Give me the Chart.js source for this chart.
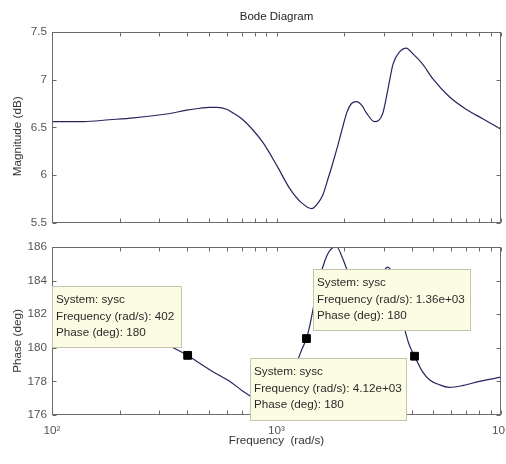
<!DOCTYPE html>
<html>
<head>
<meta charset="utf-8">
<script src="https://cdn.jsdelivr.net/npm/chart.js@4.4.0/dist/chart.umd.min.js"></script>
<style>
  html, body { margin: 0; padding: 0; background: #fff; overflow: hidden; width: 506px; height: 464px; }
  canvas { position: absolute; left: 0; }
  #c-mag   { top: 0; }
  #c-phase { top: 235px; }
</style>
</head>
<body>
<canvas id="c-mag" width="540" height="235"></canvas>
<canvas id="c-phase" width="540" height="229"></canvas>
<script>
// ── Datos ────────────────────────────────────────────────────────
const magFreq = [100, 138, 180, 231, 324, 398, 456, 500, 545, 600, 641, 700, 787, 871, 1004, 1146, 1295, 1435, 1520,
                 1606, 1700, 1778, 1880, 1970, 2060, 2158, 2274, 2400, 2518, 2735, 2967, 3125, 3302, 3534, 3784,
                 4049, 4484, 4966, 5889, 6984, 8291, 10000];
const magDb   = [6.56, 6.56, 6.58, 6.60, 6.64, 6.68, 6.70, 6.71, 6.71, 6.69, 6.65, 6.59, 6.47, 6.34, 6.10, 5.86, 5.71, 5.65, 5.70,
                 5.79, 5.97, 6.12, 6.32, 6.50, 6.66, 6.75, 6.77, 6.73, 6.65, 6.56, 6.64, 6.88, 7.16, 7.29, 7.33,
                 7.27, 7.16, 7.01, 6.82, 6.69, 6.59, 6.48];

const phaseFreq = [100, 150, 200, 260, 310, 359, 402, 426, 521, 620, 708, 761, 830, 920, 1010, 1120, 1200, 1247, 1296,
                   1360, 1406, 1480, 1560, 1641, 1710, 1779, 1853, 1974, 2080, 2250, 2500, 2800, 2980, 3125, 3270,
                   3450, 3650, 3795, 3908, 4120, 4300, 4470, 4800, 5320, 5890, 6730, 8010, 10000];
const phaseDeg  = [181.6, 181.3, 181.0, 180.6, 180.3, 179.9, 179.55, 179.33, 178.58, 178.0, 177.42, 177.15, 176.8, 176.7, 177.2, 178.2, 178.9, 179.33, 179.9,
                   180.55, 181.3, 182.8, 184.2, 185.17, 185.7, 185.95, 186.0, 185.3, 184.53, 183.9, 183.7, 184.1, 184.5, 184.8, 184.45,
                   183.3, 181.6, 180.7, 180.15, 179.5, 179.0, 178.58, 178.1, 177.8, 177.65, 177.75, 178.0, 178.25];

// Data tips (marcadores)
const tipFreq       = [402, 1360, 4120];
const tipPhase      = [179.55, 180.55, 179.5];
const tipFreqLabel  = ["402", "1.36e+03", "4.12e+03"];
const tipPhaseLabel = ["180", "180", "180"];
const tipSystem     = "sysc";

// Ticks
const xTicks   = [100, 200, 300, 400, 500, 600, 700, 800, 900, 1000, 2000, 3000, 4000, 5000, 6000, 7000, 8000, 9000, 10000];
const xLabels  = { 100: "10\u00B2", 1000: "10\u00B3", 10000: "10\u2074" };
const magRange   = [5.5, 7.5];
const phaseRange = [176, 186];

// ── Estilos ──────────────────────────────────────────────────────
const FONT      = "'Liberation Sans', Arial, Helvetica, sans-serif";
const FS        = 11.7;
const LINE      = "#25255f";
const AXIS      = "#6a6a6a";
const TICK_TXT  = "#555555";
const LABEL_TXT = "#333333";
const TIP_FILL  = "#fcfce4";
const TIP_EDGE  = "#c4c4ae";

// Posiciones de las cajas de data tips (coordenadas del canvas inferior)
const TIP_BOXES = [
  { x: 52,  y: 51,  w: 130, h: 62 },
  { x: 313, y: 34,  w: 158, h: 62 },
  { x: 250, y: 123, w: 157, h: 63 },
];

// ── Marco estilo MATLAB: caja + ticks hacia dentro ───────────────
function matlabFrame(yTitle, yOffset, withTips) {
  return {
    id: "matlabFrame",
    afterDraw(chart) {
      const { ctx, chartArea: a, scales } = chart;
      const L = Math.round(a.left) + 0.5, R = Math.round(a.right) - 0.5;
      const T = Math.round(a.top) + 0.5,  B = Math.round(a.bottom) - 0.5;
      ctx.save();
      ctx.strokeStyle = AXIS;
      ctx.lineWidth = 1;
      ctx.beginPath();
      scales.x.ticks.forEach(t => {
        const px = Math.round(scales.x.getPixelForValue(t.value)) + 0.5;
        ctx.moveTo(px, B); ctx.lineTo(px, B - 4);
        ctx.moveTo(px, T); ctx.lineTo(px, T + 4);
      });
      scales.y.ticks.forEach(t => {
        const py = Math.round(scales.y.getPixelForValue(t.value)) + 0.5;
        ctx.moveTo(L, py); ctx.lineTo(L + 4, py);
        ctx.moveTo(R, py); ctx.lineTo(R - 4, py);
      });
      ctx.stroke();
      ctx.strokeRect(L, T, R - L, B - T);

      // título eje Y (girado)
      ctx.fillStyle = LABEL_TXT;
      ctx.font = FS + "px " + FONT;
      ctx.textAlign = "center";
      ctx.textBaseline = "middle";
      ctx.translate(18, (a.top + a.bottom) / 2 + yOffset);
      ctx.rotate(-Math.PI / 2);
      ctx.fillText(yTitle, 0, 0);
      ctx.restore();

      if (withTips) drawTips(ctx);
    }
  };
}

function drawTips(ctx) {
  ctx.save();
  ctx.font = FS + "px " + FONT;
  ctx.textAlign = "left";
  ctx.textBaseline = "middle";
  TIP_BOXES.forEach((b, i) => {
    ctx.fillStyle = TIP_FILL;
    ctx.fillRect(b.x, b.y, b.w, b.h);
    ctx.strokeStyle = TIP_EDGE;
    ctx.lineWidth = 1;
    ctx.strokeRect(b.x + 0.5, b.y + 0.5, b.w - 1, b.h - 1);
    ctx.fillStyle = "#2a2a2a";
    const lines = [
      "System: " + tipSystem,
      "Frequency (rad/s): " + tipFreqLabel[i],
      "Phase (deg): " + tipPhaseLabel[i],
    ];
    lines.forEach((s, k) => ctx.fillText(s, b.x + 4, b.y + 14 + k * 16.5));
  });
  ctx.restore();
}

// ── Opciones comunes ─────────────────────────────────────────────
const xScale = (showLabels) => ({
  type: "logarithmic",
  min: 100,
  max: 10000,
  afterBuildTicks: s => { s.ticks = xTicks.map(v => ({ value: v })); },
  ticks: {
    display: showLabels,
    autoSkip: false,
    maxRotation: 0,
    padding: 9,
    color: TICK_TXT,
    font: { family: FONT, size: FS },
    callback: v => xLabels[v] || "",
  },
  grid: { display: false, drawTicks: false },
  border: { display: false },
  title: {
    display: showLabels,
    text: "Frequency  (rad/s)",
    color: LABEL_TXT,
    font: { family: FONT, size: FS },
    padding: { top: 0, bottom: 16 },
  },
  afterFit: s => { s.height = showLabels ? 49 : 8; },
});

const yScale = (range, step) => ({
  min: range[0],
  max: range[1],
  ticks: {
    stepSize: step,
    padding: 5,
    color: TICK_TXT,
    font: { family: FONT, size: FS },
    callback: v => String(Math.round(v * 10) / 10),
  },
  grid: { display: false, drawTicks: false },
  border: { display: false },
  afterFit: s => { s.width = 52; },
});

const baseOpts = {
  responsive: false,
  animation: false,
  events: [],
};

// ── Magnitud ─────────────────────────────────────────────────────
new Chart(document.getElementById("c-mag"), {
  type: "line",
  data: {
    datasets: [{
      data: magFreq.map((f, i) => ({ x: f, y: magDb[i] })),
      borderColor: LINE,
      borderWidth: 1.2,
      pointRadius: 0,
      cubicInterpolationMode: "monotone",
      fill: false,
    }]
  },
  options: {
    ...baseOpts,
    layout: { padding: { left: 0, right: 39, top: 0, bottom: 0 } },
    plugins: {
      legend: { display: false },
      tooltip: { enabled: false },
      title: {
        display: true,
        text: "Bode Diagram",
        fullSize: false,
        color: "#222",
        font: { family: FONT, size: 11.5, weight: "normal" },
        padding: { top: 10, bottom: 8 },
      },
    },
    scales: { x: xScale(false), y: yScale(magRange, 0.5) },
  },
  plugins: [matlabFrame("Magnitude (dB)", 9, false)],
});

// ── Fase ─────────────────────────────────────────────────────────
new Chart(document.getElementById("c-phase"), {
  type: "line",
  data: {
    datasets: [
      {
        data: tipFreq.map((f, i) => ({ x: f, y: tipPhase[i] })),
        showLine: false,
        pointStyle: "rect",
        pointRadius: 5.5,
        pointBackgroundColor: "#000",
        pointBorderColor: "#000",
        pointBorderWidth: 1,
      },
      {
        data: phaseFreq.map((f, i) => ({ x: f, y: phaseDeg[i] })),
        borderColor: LINE,
        borderWidth: 1.2,
        pointRadius: 0,
        cubicInterpolationMode: "monotone",
        fill: false,
      },
    ]
  },
  options: {
    ...baseOpts,
    layout: { padding: { left: 0, right: 39, top: 8, bottom: 0 } },
    plugins: { legend: { display: false }, tooltip: { enabled: false } },
    scales: { x: xScale(true), y: yScale(phaseRange, 2) },
  },
  plugins: [matlabFrame("Phase (deg)", 10, true)],
});
</script>
</body>
</html>
